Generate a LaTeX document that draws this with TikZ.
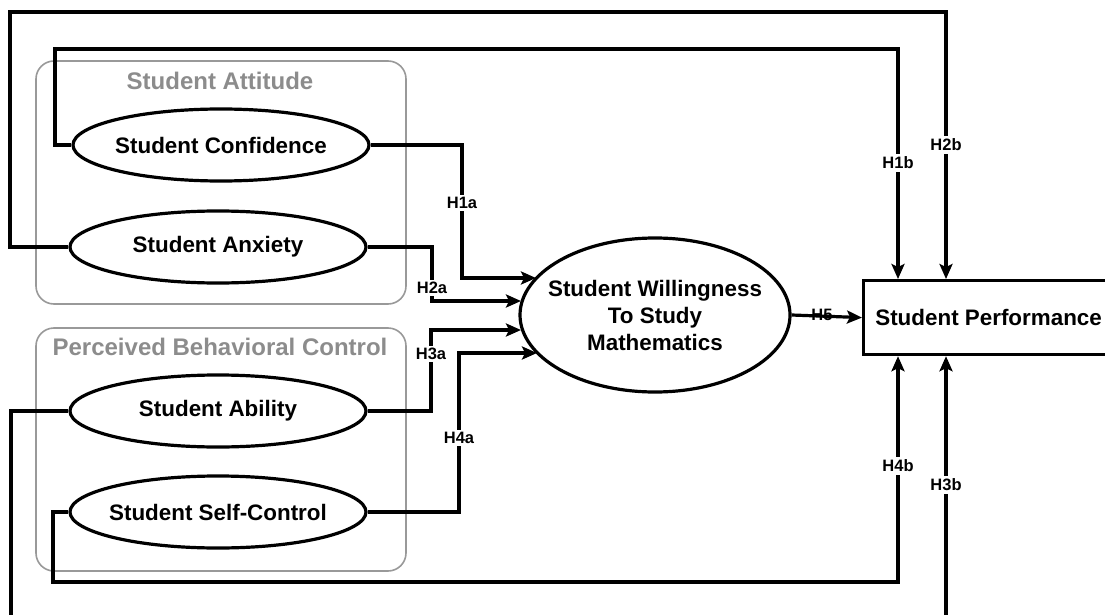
\documentclass[tikz,border=0pt]{standalone}
\usepackage{fontspec}
\setmainfont{Liberation Sans}
\usetikzlibrary{arrows.meta,shapes.geometric}
\definecolor{grpline}{gray}{0.6}
\definecolor{grptext}{gray}{0.55}
\begin{document}
\begin{tikzpicture}[x=1pt,y=-1pt,
  conn/.style={line width=3.2pt, line join=miter},
  arr/.style={conn, -{Stealth[length=15pt,width=13pt,inset=3pt]}},
  latent/.style={ellipse, draw, line width=3.2pt, fill=white, minimum width=296pt, minimum height=72pt, inner sep=0pt},
  ltext/.style={inner sep=0pt, align=center, font=\bfseries\fontsize{22.4}{27}\selectfont},
  group/.style={draw=grpline, line width=1.6pt, rounded corners=18pt},
  grouptitle/.style={text=grptext, inner sep=0pt, font=\bfseries\fontsize{24}{28}\selectfont},
  hlabel/.style={fill=white, inner sep=2.5pt, font=\bfseries\fontsize{16.5}{18}\selectfont},
  hfree/.style={inner sep=0pt, font=\bfseries\fontsize{16.5}{18}\selectfont}
]
\useasboundingbox (0,0) rectangle (1105,615);
\begin{scope}
\clip (0,0) rectangle (1105,615);

% group boxes
\draw[group] (36,61) rectangle (406,304);
\draw[group] (36,328) rectangle (406,571);
\node[grouptitle] (gatt) at (220,81) {Student Attitude};
\node[grouptitle] (gpbc) at (220,347) {Perceived Behavioral Control};

% latent variables
\node[latent] (conf) at (221,145) {};
\node[ltext] (conft) at (conf) {Student Confidence};
\node[latent] (anx) at (218,247) {};
\node[ltext] (anxt) at (anx) {Student Anxiety};
\node[latent] (abil) at (218,411) {};
\node[ltext] (abilt) at (abil) {Student Ability};
\node[latent] (self) at (218,512) {};
\node[ltext] (selft) at (self) {Student Self-Control};

\node[ellipse, draw, line width=3.2pt, fill=white, minimum width=270pt, minimum height=154pt, inner sep=0pt] (wil) at (655,315) {};
\node[ltext] (wilt) at (wil) {Student Willingness\\To Study\\Mathematics};

\node[draw, line width=3.2pt, anchor=north west, minimum width=250pt, minimum height=74pt, inner sep=0pt, font=\bfseries\fontsize{22.4}{27}\selectfont] (perf) at (862,279) {Student Performance};

% tip coordinates on the willingness ellipse
\coordinate (t1) at (536,278);
\coordinate (t2) at (521,301);
\coordinate (t3) at (521,330);
\coordinate (t4) at (537,353);

% a-paths
\draw[arr] (conf.east) -- (462,145) -- (462,278) -- (t1);
\node[hlabel] (h1a) at (462,203) {H1a};
\draw[arr] (anx.east) -- (432,247) -- (432,301) -- (t2);
\node[hlabel] (h2a) at (432,288) {H2a};
\draw[arr] (abil.east) -- (431,411) -- (431,330) -- (t3);
\node[hlabel] (h3a) at (431,354) {H3a};
\draw[arr] (self.east) -- (459,512) -- (459,353) -- (t4);
\node[hlabel] (h4a) at (459,438) {H4a};

% b-paths
\coordinate (p1t) at (898,0 |- perf.north);
\coordinate (p2t) at (946,0 |- perf.north);
\coordinate (p1b) at (898,0 |- perf.south);
\coordinate (p2b) at (946,0 |- perf.south);
\draw[arr] (anx.west) -- (10,247) -- (10,12) -- (946,12) -- (p2t);
\node[hlabel] (h2b) at (946,145) {H2b};
\draw[arr] (conf.west) -- (55,145) -- (55,49) -- (898,49) -- (p1t);
\node[hlabel] (h1b) at (898,163) {H1b};
\draw[arr] (abil.west) -- (11,411) -- (11,640) -- (946,640) -- (p2b);
\node[hlabel] (h3b) at (946,485) {H3b};
\draw[arr] (self.west) -- (53,512) -- (53,582) -- (898,582) -- (p1b);
\node[hlabel] (h4b) at (898,466) {H4b};

% H5
\draw[arr] (wil.east) -- (perf.west);
\node[hfree] (h5) at (822,315) {H5};
\end{scope}
\end{tikzpicture}
\end{document}
